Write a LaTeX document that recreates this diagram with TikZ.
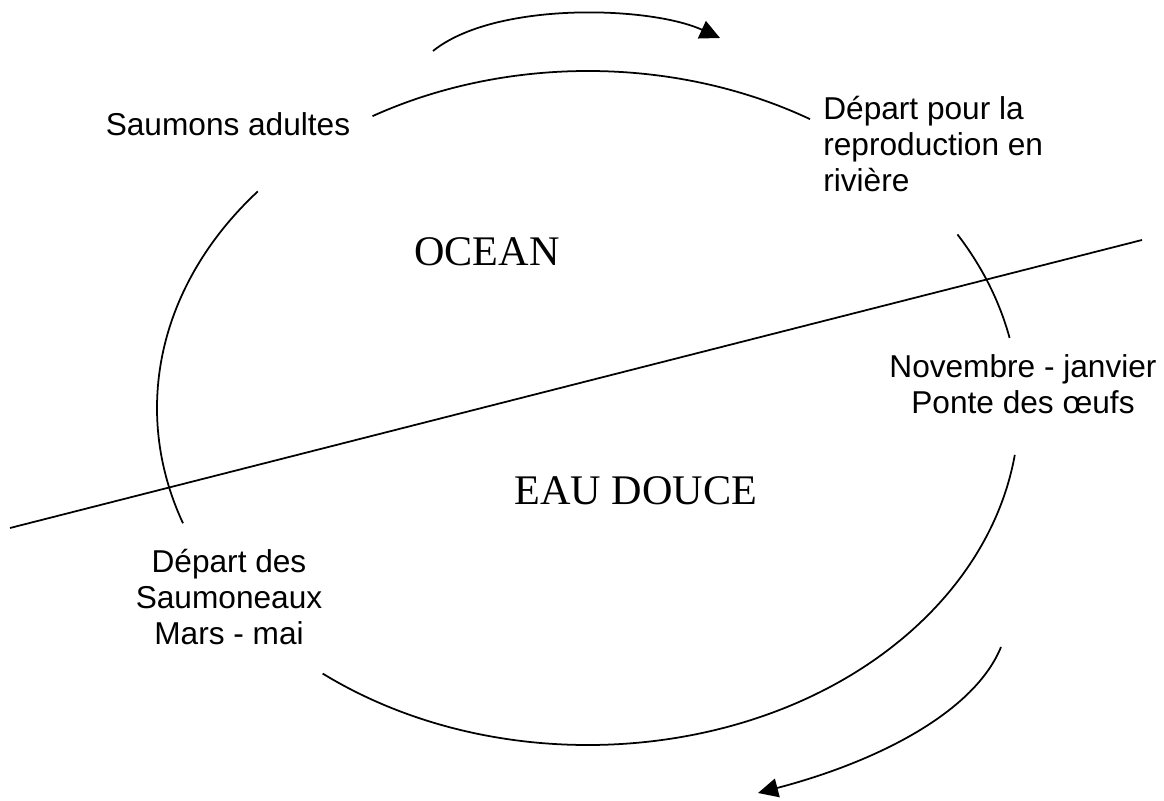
\documentclass[tikz,border=0pt]{standalone}
\usepackage{fontspec}
\setmainfont{Liberation Serif}
\setsansfont{Liberation Sans}
\usepackage{tikz}
\usetikzlibrary{arrows.meta}

\begin{document}
\begin{tikzpicture}[x=0.02cm, y=0.02cm,
  stage/.style={inner sep=0pt, font=\sffamily\fontsize{18}{20.4}\selectfont},
  zone/.style={inner sep=0pt, font=\rmfamily\fontsize{24}{28}\selectfont},
  cyc/.style={line width=1pt},
  flow/.style={-{Triangle[length=0.4cm, width=0.38cm]}, line width=1pt},
]
  \useasboundingbox (0,0) rectangle (1164,801);

  % centre of the life cycle
  \coordinate (c) at (588,393);

  % texts of the stages
  \node[stage] (sa) at (228,677) {Saumons adultes};
  \node[stage, anchor=west, align=left] (dpr) at (823,657)
    {Départ pour la\\reproduction en\\rivière};
  \node[stage, align=center] (nj) at (1023,417)
    {Novembre - janvier\\Ponte des œufs};
  \node[stage, align=center] (ds) at (229,204)
    {Départ des\\Saumoneaux\\Mars - mai};

  % the two waters
  \node[zone] (oc) at (487,549) {OCEAN};
  \node[zone] (ed) at (636,310) {EAU DOUCE};

  % cycle, broken round the texts
  \draw[cyc] (c) ++(59:431 and 337) arc[start angle=59, end angle=120, x radius=431, y radius=337];
  \draw[cyc] (c) ++(140:431 and 337) arc[start angle=140, end angle=200, x radius=431, y radius=337];
  \draw[cyc] (c) ++(232:431 and 337) arc[start angle=232, end angle=352, x radius=431, y radius=337];
  \draw[cyc] (c) ++(12:431 and 337) arc[start angle=12, end angle=31, x radius=431, y radius=337];

  % limit between ocean and river
  \coordinate (l1) at (10,273);
  \coordinate (l2) at (1142,561);
  \draw[cyc] (l1) -- (l2);

  % direction of the cycle
  \coordinate (t1) at (433,750);
  \coordinate (t2) at (720,763);
  \draw[flow] (t1) .. controls (495,800) and (650,795) .. (t2);
  \coordinate (b1) at (1001,154);
  \coordinate (b2) at (758,8);
  \draw[flow] (b1) .. controls (975,90) and (880,40) .. (b2);
\end{tikzpicture}
\end{document}
